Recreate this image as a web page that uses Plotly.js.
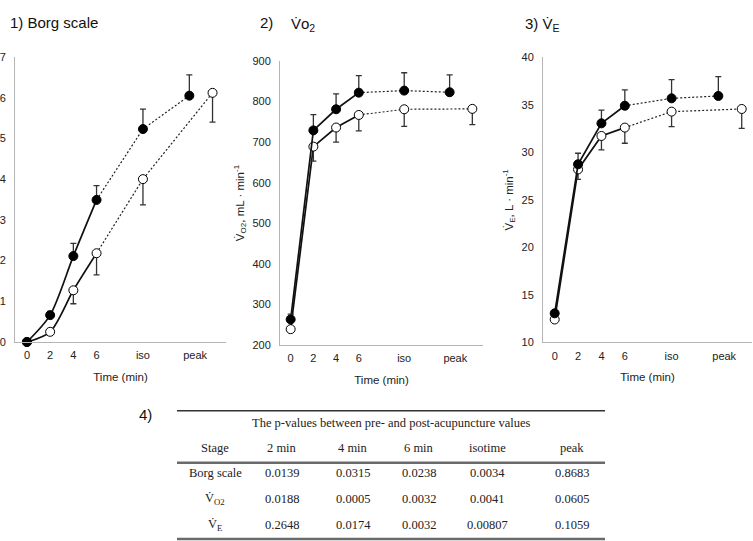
<!DOCTYPE html>
<html><head><meta charset="utf-8">
<script src="https://cdn.plot.ly/plotly-3.0.1.min.js"></script>
<style>html,body{margin:0;padding:0;background:#fff}#chart{width:753px;height:541px}</style>
</head><body><div id="chart"></div>
<script>
// ---- data ----
const timeTickLabels = ['0', '2', '4', '6', 'iso', 'peak'];
const timeTickValues = [0, 2, 4, 6, 10, 14.5];
const timePre  = [0, 2, 4, 6, 10, 14];   // filled circles
const timePost = [0, 2, 4, 6, 10, 16];   // open circles

const borgPre      = [0, 0.66, 2.11, 3.49, 5.23, 6.05];
const borgPreErr   = [0, 0.09, 0.31, 0.35, 0.49, 0.51];
const borgPost     = [0, 0.25, 1.27, 2.18, 4.00, 6.12];
const borgPostErr  = [0, 0.05, 0.33, 0.53, 0.63, 0.72];

const vo2Pre      = [263, 729, 781, 822, 827, 823];
const vo2PreErr   = [13, 39, 38, 42, 44, 43];
const vo2Post     = [239, 689, 736, 767, 781, 782];
const vo2PostErr  = [8, 36, 36, 39, 42, 39];

const vePre      = [13.05, 28.74, 33.05, 34.90, 35.68, 35.93];
const vePreErr   = [0.25, 1.16, 1.40, 1.68, 1.96, 2.04];
const vePost     = [12.40, 28.20, 31.72, 32.60, 34.28, 34.56];
const vePostErr  = [0.25, 1.05, 1.47, 1.65, 1.58, 2.04];

// table
const tableTitle = 'The p-values between pre- and post-acupuncture values';
const tableHeader = ['Stage', '2 min', '4 min', '6 min', 'isotime', 'peak'];
const tableStages = ['Borg scale', 'V\u0307<sub>O2</sub>', 'V\u0307<sub>E</sub>'];
const pBorg = ['0.0139', '0.0315', '0.0238', '0.0034', '0.8683'];
const pVo2  = ['0.0188', '0.0005', '0.0032', '0.0041', '0.0605'];
const pVe   = ['0.2648', '0.0174', '0.0032', '0.00807', '0.1059'];

// ---- build ----
const W = 753, H = 541;
const px = v => v / W;
const py = v => 1 - v / H;
const SANS = 'Liberation Sans, Arial, sans-serif';
const SERIF = 'Liberation Serif, Times New Roman, serif';

const traces = [];
function addSeries(xa, ya, x, y, err, filled, smooth) {
  const zeros = err.map(() => 0);
  traces.push({x: x.slice(0, 4), y: y.slice(0, 4), xaxis: xa, yaxis: ya, mode: 'lines',
    line: {color: '#111', width: 1.7, shape: smooth ? 'spline' : 'linear', smoothing: 0.8},
    hoverinfo: 'skip', cliponaxis: false});
  traces.push({x: x.slice(3), y: y.slice(3), xaxis: xa, yaxis: ya, mode: 'lines',
    line: {color: '#222', width: 1.2, dash: '2px,2px'}, hoverinfo: 'skip', cliponaxis: false});
  traces.push({x: x, y: y, xaxis: xa, yaxis: ya, mode: 'markers', cliponaxis: false,
    marker: {size: 9, color: filled ? '#000' : '#fff', line: {color: '#000', width: 1}},
    error_y: {type: 'data', symmetric: false,
      array: filled ? err : zeros, arrayminus: filled ? zeros : err,
      color: '#333', thickness: 1.3, width: 3}});
}
addSeries('x', 'y', timePost, borgPost, borgPostErr, false, true);
addSeries('x', 'y', timePre, borgPre, borgPreErr, true, true);
addSeries('x2', 'y2', timePost, vo2Post, vo2PostErr, false, false);
addSeries('x2', 'y2', timePre, vo2Pre, vo2PreErr, true, false);
addSeries('x3', 'y3', timePost, vePost, vePostErr, false, false);
addSeries('x3', 'y3', timePre, vePre, vePreErr, true, false);

function xAxis(dom, range, anchor) {
  return {domain: dom, range: range, anchor: anchor, tickvals: timeTickValues, ticktext: timeTickLabels,
    showline: true, linecolor: '#b5b5b5', linewidth: 1, showgrid: false, zeroline: false, ticks: '',
    ticklabelstandoff: 3,
    tickfont: {family: SANS, size: 11, color: '#222'},
    title: {text: 'Time (min)', font: {family: SANS, size: 11.5, color: '#222'}, standoff: 12}};
}
function yAxis(dom, range, dtick, anchor, title) {
  const a = {domain: dom, range: range, dtick: dtick, anchor: anchor,
    showline: true, linecolor: '#b5b5b5', linewidth: 1, showgrid: false, zeroline: false, ticks: '',
    ticklabelstandoff: 6, tickfont: {family: SANS, size: 11, color: '#222'}};
  if (title) a.title = {text: title, font: {family: SANS, size: 11.5, color: '#222'}, standoff: 5};
  return a;
}

const annotations = [
  {text: '1) Borg scale', x: px(8), y: py(23), xanchor: 'left', yanchor: 'middle'},
  {text: '2)', x: px(258), y: py(23), xanchor: 'left', yanchor: 'middle'},
  {text: 'V\u0307o<sub>2</sub>', x: px(289), y: py(24), xanchor: 'left', yanchor: 'middle'},
  {text: '3) V\u0307<sub>E</sub>', x: px(523), y: py(24), xanchor: 'left', yanchor: 'middle'},
  {text: '4)', x: px(145), y: py(414), xanchor: 'center', yanchor: 'middle'}
].map(a => Object.assign(a, {xref: 'paper', yref: 'paper', showarrow: false,
  font: {family: SANS, size: 15, color: '#111'}}));

// table text
const colX = [215, 282, 353, 419, 487, 572];
const rowY = [473, 499, 525];
const tFont = {family: SERIF, size: 12.5, color: '#222'};
function tAnn(text, x, y) {
  annotations.push({text: text, x: px(x), y: py(y), xref: 'paper', yref: 'paper',
    xanchor: 'center', yanchor: 'middle', showarrow: false, font: tFont});
}
tAnn(tableTitle, 391, 423);
tableHeader.forEach((h, i) => tAnn(h, colX[i], 448));
[pBorg, pVo2, pVe].forEach((row, r) => {
  tAnn(tableStages[r], colX[0], rowY[r]);
  row.forEach((v, i) => tAnn(v, colX[i + 1], rowY[r]));
});

const shapes = [
  {y: 410.7, w: 1.5, c: '#333'},
  {y: 462.7, w: 2.5, c: '#6a6a6a'},
  {y: 539, w: 2.5, c: '#6a6a6a'}
].map(s => ({type: 'line', xref: 'paper', yref: 'paper', x0: px(177), x1: px(605),
  y0: py(s.y), y1: py(s.y), line: {color: s.c, width: s.w}}));

const layout = {
  width: W, height: H, margin: {l: 0, r: 0, t: 0, b: 0},
  paper_bgcolor: '#fff', plot_bgcolor: '#fff', showlegend: false,
  xaxis: xAxis([px(15), px(226)], [-1.03, 17.16], 'y'),
  yaxis: yAxis([py(342), py(57)], [0, 7], 1, 'x', null),
  xaxis2: xAxis([px(280), px(483)], [-0.94, 16.94], 'y2'),
  yaxis2: yAxis([py(345), py(61)], [200, 900], 100, 'x2', 'V\u0307<sub>O2</sub>, mL \u00b7 min<sup>-1</sup>'),
  xaxis3: xAxis([px(543), px(752)], [-1.0, 16.88], 'y3'),
  yaxis3: yAxis([py(342.3), py(57.3)], [10, 40], 5, 'x3', 'V\u0307<sub>E</sub>, L \u00b7 min<sup>-1</sup>'),
  annotations: annotations, shapes: shapes
};
Plotly.newPlot('chart', traces, layout, {staticPlot: true, displayModeBar: false});
</script></body></html>
